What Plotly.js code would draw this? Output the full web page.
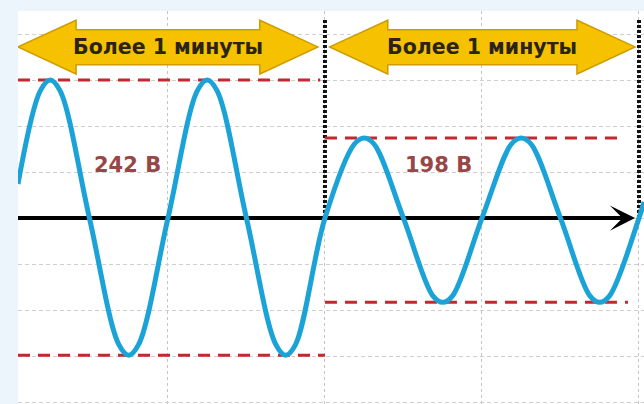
<!DOCTYPE html>
<html>
<head>
<meta charset="utf-8">
<script src="https://cdn.plot.ly/plotly-3.0.1.min.js"></script>
<style>html,body{margin:0;padding:0;background:#edf5fc;}#chart{width:644px;height:404px;}</style>
</head>
<body>
<div id="chart"></div>
<script>
// Waveform key points (time in grid cells, voltage in grid cells)
var waveT = [-1.955, -1.8125, -1.75, -1.6875, -1.5, -1.3125, -1.25, -1.1875, -1.0, -0.8125, -0.75, -0.6875, -0.5, -0.3125, -0.25, -0.1875, 0,
             0.1875, 0.25, 0.3125, 0.5, 0.6875, 0.75, 0.8125, 1.0, 1.1875, 1.25, 1.3125, 1.5, 1.6875, 1.75, 1.8125, 2.0, 2.032];
var waveV = [0.74, 2.77, 3.0, 2.77, 0, -2.75, -2.98, -2.75, 0, 2.77, 3.0, 2.77, 0, -2.75, -2.98, -2.75, 0,
             1.61, 1.74, 1.61, 0, -1.69, -1.83, -1.69, 0, 1.61, 1.74, 1.61, 0, -1.69, -1.83, -1.69, 0, 0.35];

// Red dashed amplitude levels
var levelStart = [-1.955, -1.955, 0, 0];
var levelEnd   = [-0.03, 0, 1.91, 1.93];
var levelValue = [3.0, -2.98, 1.74, -1.83];

// Interval banners
var intervalStart = [-1.955, 0.03];
var intervalEnd   = [-0.045, 1.975];
var intervalLabel = ["Более 1 минуты", "Более 1 минуты"];

// Voltage labels
var voltLabel = ["242 В", "198 В"];
var voltT = [-1.26, 0.72];
var voltV = [1.15, 1.15];

// Segment boundaries (black dotted markers)
var boundaryT = [0, 2.0];

var traces = [];
for (var i = 0; i < levelValue.length; i++) {
  traces.push({
    type: 'scatter', mode: 'lines',
    x: [levelStart[i], levelEnd[i]], y: [levelValue[i], levelValue[i]],
    line: {color: '#c0292e', width: 3, dash: '12px,8px'},
    hoverinfo: 'skip', showlegend: false
  });
}
traces.push({
  type: 'scatter', mode: 'lines', x: waveT, y: waveV,
  line: {color: '#1ba3d8', width: 5, shape: 'spline', smoothing: 1},
  hoverinfo: 'skip', showlegend: false
});

var shapes = [];
// horizontal axis line
shapes.push({type: 'line', layer: 'between', xref: 'x', yref: 'y', x0: -1.955, x1: 1.9, y0: 0, y1: 0,
  line: {color: '#000', width: 4}});
boundaryT.forEach(function (t) {
  shapes.push({type: 'line', layer: 'between', xref: 'x', yref: 'y', x0: t, x1: t, y0: 0, y1: 4.35,
    line: {color: '#111', width: 4, dash: '3px,2px'}});
});
var headLen = 0.37, yc = 3.72, sTop = 4.09, sBot = 3.33, hTop = 4.30, hBot = 3.13;
function bannerPath(a, b) {
  var p = [[a, yc], [a + headLen, hTop], [a + headLen, sTop], [b - headLen, sTop], [b - headLen, hTop], [b, yc],
           [b - headLen, hBot], [b - headLen, sBot], [a + headLen, sBot], [a + headLen, hBot]];
  return 'M' + p.map(function (q) { return q[0] + ',' + q[1]; }).join(' L') + ' Z';
}
var annotations = [];
for (var j = 0; j < intervalStart.length; j++) {
  shapes.push({type: 'path', layer: 'above', xref: 'x', yref: 'y', path: bannerPath(intervalStart[j], intervalEnd[j]),
    fillcolor: '#f6c200', line: {color: '#cf9c00', width: 1.5}});
  annotations.push({x: (intervalStart[j] + intervalEnd[j]) / 2, y: yc, xref: 'x', yref: 'y', text: intervalLabel[j],
    showarrow: false, font: {family: 'DejaVu Sans', size: 20.5, color: '#2b2410', weight: 'bold'}});
}
for (var k = 0; k < voltLabel.length; k++) {
  annotations.push({x: voltT[k], y: voltV[k], xref: 'x', yref: 'y', text: voltLabel[k], showarrow: false,
    font: {family: 'DejaVu Sans', size: 21, color: '#984646', weight: 'bold'}});
}
// arrow head on the time axis
annotations.push({x: 1.975, y: 0, xref: 'x', yref: 'y', ax: 1.8, ay: 0, axref: 'x', ayref: 'y', text: '',
  showarrow: true, arrowhead: 3, arrowsize: 1.4, arrowwidth: 3, arrowcolor: '#000', standoff: 0});

var layout = {
  width: 644, height: 404,
  margin: {l: 18, r: 0, t: 11, b: 0, pad: 0},
  paper_bgcolor: '#edf5fc', plot_bgcolor: '#ffffff',
  xaxis: {range: [-1.955, 2.032], dtick: 1, tick0: 0, showgrid: true, gridcolor: '#c4c4c4', gridwidth: 1,
    griddash: 'dot', zeroline: false, showticklabels: false, ticks: '', showline: false, fixedrange: true},
  yaxis: {range: [-4.04, 4.5], dtick: 1, tick0: 0, showgrid: true, gridcolor: '#cfcfcf', gridwidth: 1,
    griddash: '4px,3px', zeroline: false, showticklabels: false, ticks: '', showline: false, fixedrange: true},
  shapes: shapes, annotations: annotations, showlegend: false
};
Plotly.newPlot('chart', traces, layout, {staticPlot: true, displayModeBar: false});
</script>
</body>
</html>
